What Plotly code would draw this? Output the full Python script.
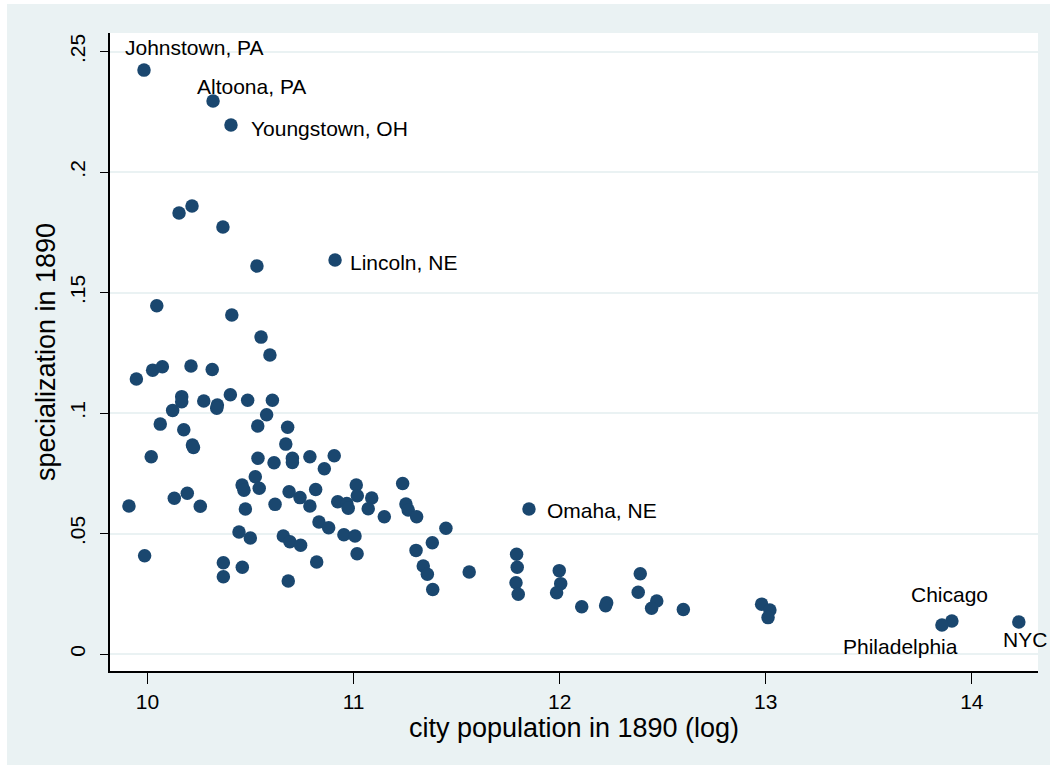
import plotly.graph_objects as go

# ---- data ----
labeled_names = ["Johnstown, PA", "Altoona, PA", "Youngstown, OH", "Lincoln, NE",
                 "Omaha, NE", "Chicago", "Philadelphia", "NYC"]
labeled_logpop = [9.983, 10.318, 10.405, 10.910, 11.851, 13.903, 13.855, 14.228]
labeled_spec = [0.2423, 0.2295, 0.2195, 0.1635, 0.0602, 0.0137, 0.0120, 0.0133]

other_logpop = [
    10.153, 10.216, 10.366, 10.531, 10.045, 10.409, 10.551, 10.594, 9.946, 10.025,
    10.072, 10.211, 10.314, 10.166, 10.166, 10.273, 10.339, 10.336, 10.402, 10.486,
    10.606, 10.122, 10.578, 10.062, 10.176, 10.535, 10.680, 10.218, 10.223, 10.671,
    10.018, 10.536, 10.614, 10.703, 10.703, 10.788, 10.906, 10.858, 11.238, 11.013,
    11.018, 10.523, 10.459, 10.468, 10.542, 10.687, 10.740, 10.816, 9.910, 10.130,
    10.193, 10.256, 10.475, 10.619, 10.788, 10.923, 10.967, 10.974, 11.088, 11.071,
    11.149, 11.254, 11.265, 11.306, 10.832, 10.879, 11.448, 10.444, 10.499, 10.659,
    10.691, 10.743, 10.953, 11.007, 11.382, 11.303, 11.017, 9.986, 10.368, 10.368,
    10.460, 10.821, 10.683, 11.338, 11.358, 11.384, 11.561, 11.791, 11.794, 11.788,
    11.799, 11.998, 12.005, 11.985, 12.107, 12.228, 12.223, 12.391, 12.381, 12.471,
    12.446, 12.600, 12.980, 13.020, 13.011,
]
other_spec = [
    0.1830, 0.1859, 0.1772, 0.1610, 0.1445, 0.1407, 0.1315, 0.1241, 0.1141, 0.1178,
    0.1192, 0.1195, 0.1181, 0.1068, 0.1047, 0.1050, 0.1033, 0.1020, 0.1076, 0.1053,
    0.1053, 0.1011, 0.0993, 0.0954, 0.0931, 0.0946, 0.0941, 0.0867, 0.0857, 0.0871,
    0.0819, 0.0812, 0.0794, 0.0812, 0.0795, 0.0819, 0.0823, 0.0769, 0.0708, 0.0701,
    0.0657, 0.0736, 0.0701, 0.0680, 0.0688, 0.0673, 0.0649, 0.0683, 0.0614, 0.0646,
    0.0667, 0.0613, 0.0602, 0.0621, 0.0614, 0.0632, 0.0625, 0.0605, 0.0647, 0.0603,
    0.0570, 0.0622, 0.0598, 0.0570, 0.0548, 0.0524, 0.0522, 0.0506, 0.0481, 0.0490,
    0.0466, 0.0451, 0.0495, 0.0490, 0.0462, 0.0430, 0.0416, 0.0408, 0.0379, 0.0321,
    0.0360, 0.0382, 0.0303, 0.0365, 0.0331, 0.0268, 0.0340, 0.0414, 0.0360, 0.0296,
    0.0248, 0.0346, 0.0292, 0.0254, 0.0196, 0.0213, 0.0200, 0.0333, 0.0256, 0.0220,
    0.0190, 0.0185, 0.0207, 0.0183, 0.0151,
]

x_ticks = [10, 11, 12, 13, 14]
y_ticks = [0, 0.05, 0.10, 0.15, 0.20, 0.25]
y_ticktext = ["0", ".05", ".1", ".15", ".2", ".25"]

# label placement (pixel offsets from the marker): xanchor, xshift, yshift
label_style = {
    "Johnstown, PA": ("left", -21, 23),
    "Altoona, PA": ("left", -18, 14),
    "Youngstown, OH": ("left", 18, -3),
    "Lincoln, NE": ("left", 13, -2),
    "Omaha, NE": ("left", 16, -2),
    "Chicago": ("center", -2, 27),
    "Philadelphia": ("right", 18, -21),
    "NYC": ("center", 6, -18),
}

FONT = "Liberation Sans, Arial, sans-serif"
BG = "#EAF2F3"
MARK = "#1A476F"

W, H = 1053, 773
ML, MR, MT, MB = 110, 15, 33, 102
PW, PH = W - ML - MR, H - MT - MB


def px(xp):
    return (xp - ML) / PW


def py(yp):
    return (H - MB - yp) / PH


fig = go.Figure()
fig.add_trace(go.Scatter(
    x=other_logpop + labeled_logpop,
    y=other_spec + labeled_spec,
    mode="markers",
    marker=dict(color=MARK, size=13.5, line=dict(width=0)),
    hoverinfo="x+y",
    showlegend=False,
))

annotations = []
for name, xv, yv in zip(labeled_names, labeled_logpop, labeled_spec):
    anchor, xs, ys = label_style[name]
    annotations.append(dict(
        x=xv, y=yv, xref="x", yref="y", text=name, showarrow=False,
        xanchor=anchor, yanchor="middle", xshift=xs, yshift=ys,
        font=dict(family=FONT, size=21, color="#000000"),
    ))

# thin white frame around the light graph region
white = dict(type="rect", xref="paper", yref="paper", fillcolor="white",
             line=dict(width=0), layer="above")
shapes = [
    dict(white, x0=px(0), x1=px(7), y0=py(H), y1=py(0)),
    dict(white, x0=px(0), x1=px(W), y0=py(4), y1=py(0)),
    dict(white, x0=px(1050), x1=px(W), y0=py(H), y1=py(0)),
    dict(white, x0=px(0), x1=px(W), y0=py(H), y1=py(765)),
]

fig.update_layout(
    width=W, height=H,
    paper_bgcolor=BG,
    plot_bgcolor="white",
    margin=dict(l=ML, r=MR, t=MT, b=MB, pad=0),
    font=dict(family=FONT, color="#000000"),
    annotations=annotations,
    shapes=shapes,
    xaxis=dict(
        range=[9.818, 14.321],
        tickvals=x_ticks,
        ticks="outside", ticklen=11, tickwidth=1.2, tickcolor="#000000",
        showline=True, linecolor="#000000", linewidth=1.5,
        showgrid=False, zeroline=False,
        tickfont=dict(size=21, family=FONT),
        title=dict(text="city population in 1890 (log)",
                   font=dict(size=27, family=FONT), standoff=3),
    ),
    yaxis=dict(
        range=[-0.00705, 0.2577],
        tickvals=y_ticks, ticktext=y_ticktext,
        tickangle=-90,
        ticks="outside", ticklen=8, tickwidth=1.2, tickcolor="#000000",
        ticklabelstandoff=7,
        showline=True, linecolor="#000000", linewidth=1.5,
        showgrid=True, gridcolor=BG, gridwidth=2,
        zeroline=False,
        tickfont=dict(size=21, family=FONT),
        title=dict(text="specialization in 1890",
                   font=dict(size=27, family=FONT), standoff=2),
    ),
)

fig.write_html(
    "out.html",
    config={"displayModeBar": False},
    post_script="document.body.style.margin='0';document.body.style.padding='0';",
)
